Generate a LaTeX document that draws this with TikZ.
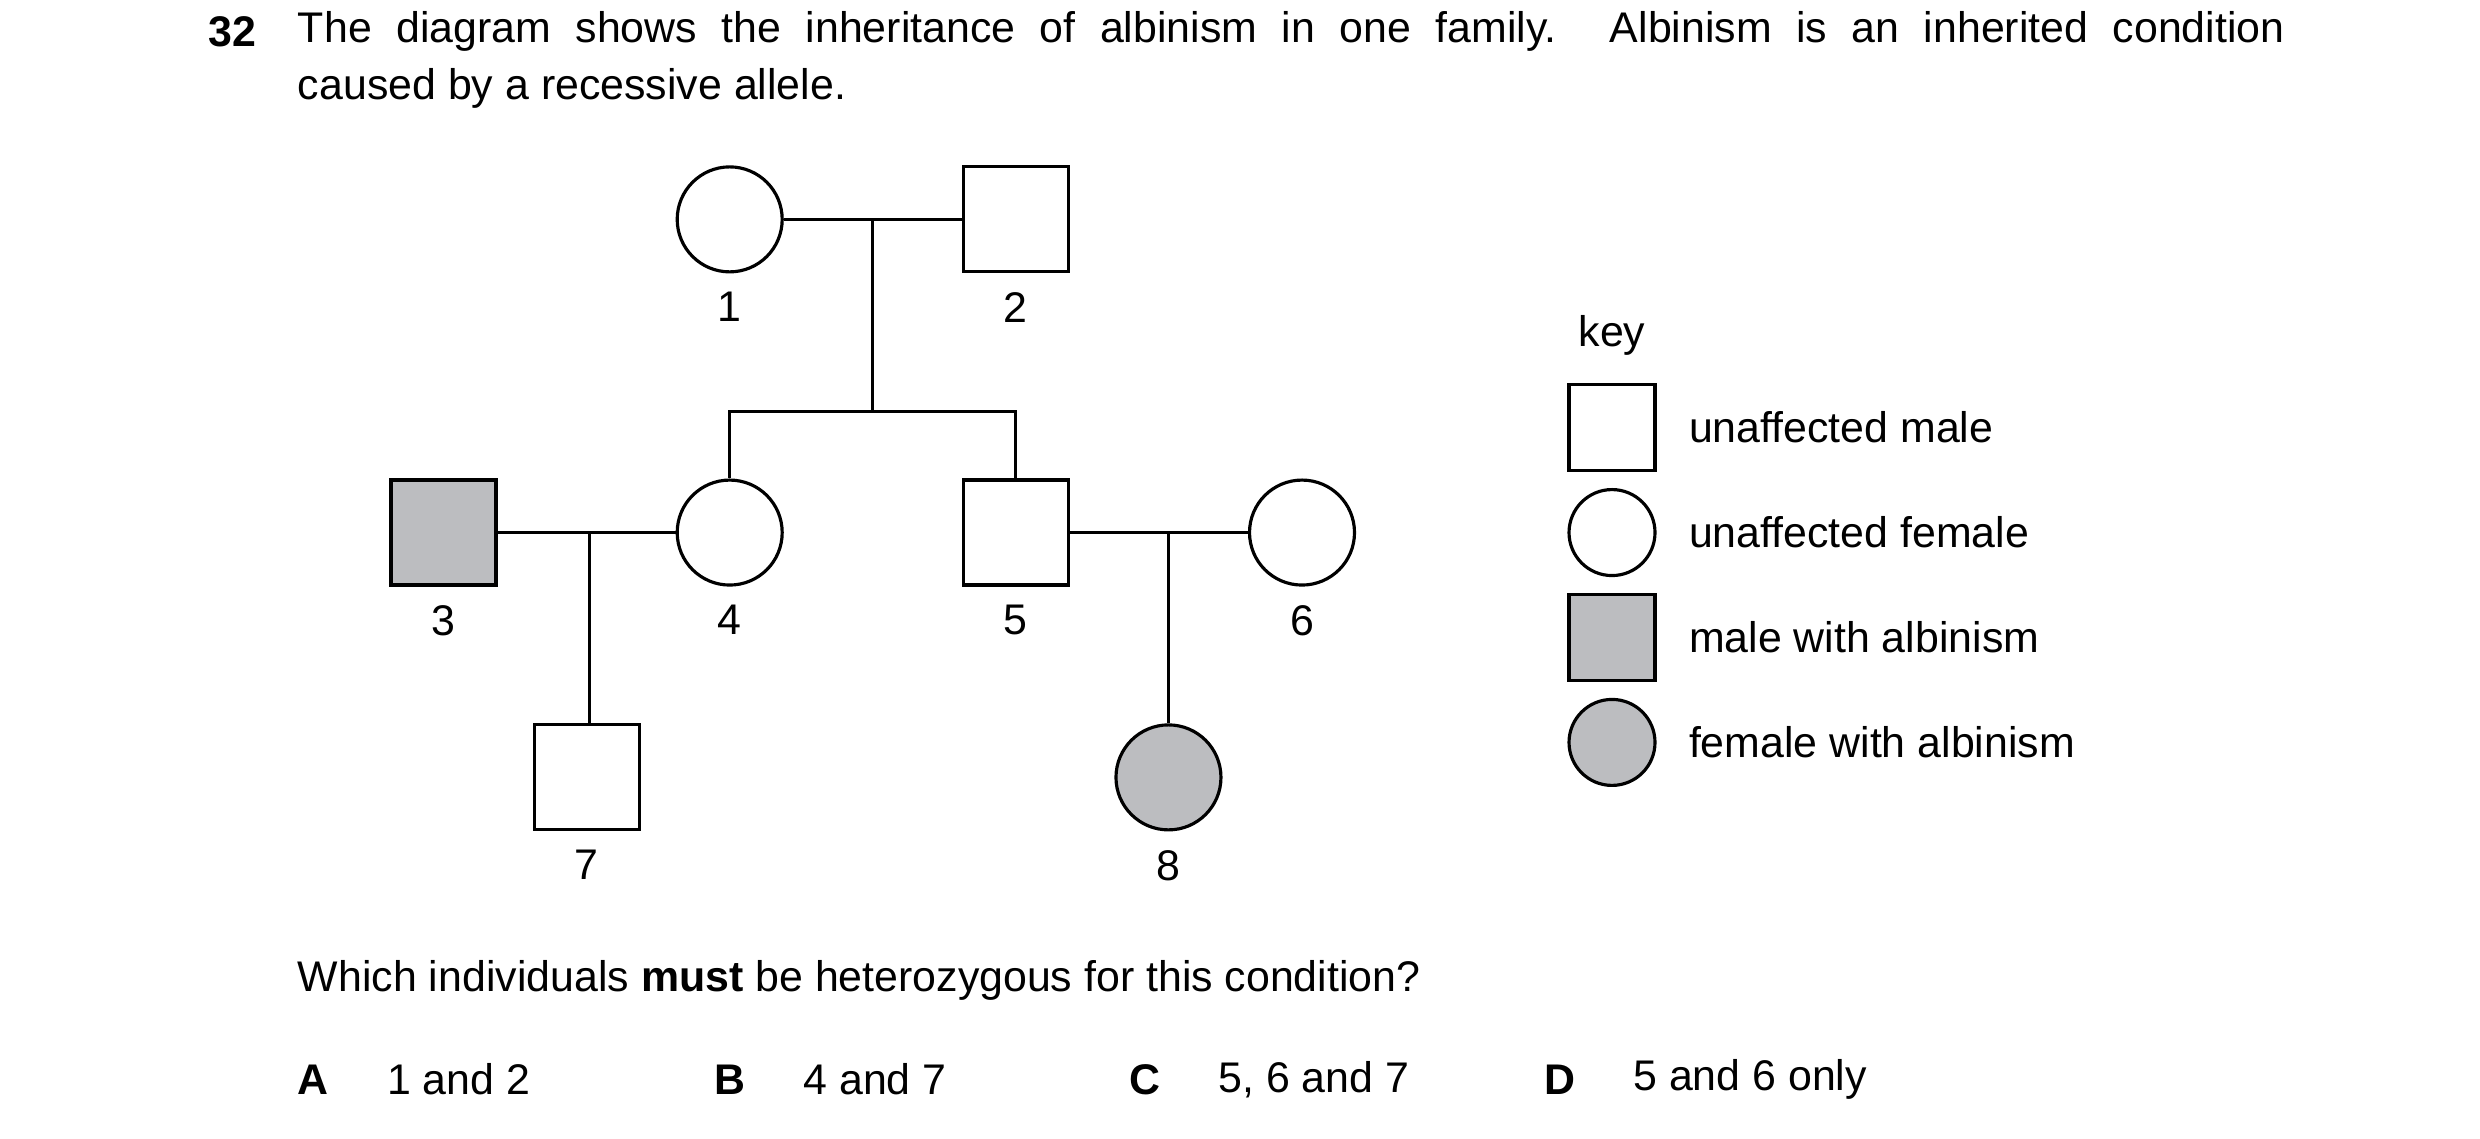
\documentclass[tikz,border=0pt]{standalone}
\usepackage{fontspec}
\setmainfont{Liberation Sans}
\usetikzlibrary{positioning}
\definecolor{albino}{HTML}{BCBDC0}
\tikzset{
    male/.style={draw, line width=0.9pt, minimum size=1.05cm, inner sep=0pt},
    female/.style={draw, line width=0.9pt, circle, minimum size=1.05cm, inner sep=0pt},
    keymale/.style={male, minimum size=0.86cm},
    keyfemale/.style={female, minimum size=0.86cm},
    line/.style={line width=0.9pt},
    txt/.style={font=\fontsize{12.2}{16}\selectfont, inner sep=0pt}
}
\begin{document}
\begin{tikzpicture}[x=0.0159cm, y=-0.0159cm]
    \useasboundingbox (0,0) rectangle (1560,716);
    % question header
    \node [txt, anchor=west, font=\fontsize{12.2}{16}\selectfont\bfseries] at (131,20) {32};
    \node [txt, anchor=north west, text width=19.87cm, align=justify] (q) at (187,7)
        {The diagram shows the inheritance of albinism in one family. Albinism is an inherited condition\linebreak caused by a recessive allele.};
    % generation I
    \node [female] (p1) at (459,138) {};
    \node [male] (p2) at (639,138) {};
    % generation II
    \node [male, fill=albino] (p3) at (279,335) {};
    \node [female] (p4) at (459,335) {};
    \node [male] (p5) at (639,335) {};
    \node [female] (p6) at (819,335) {};
    % generation III
    \node [male] (p7) at (369,489) {};
    \node [female, fill=albino] (p8) at (735,489) {};
    % numbers
    \foreach \p/\n in {p1/1,p2/2,p3/3,p4/4,p5/5,p6/6,p7/7,p8/8}
        \node [txt, below=0.72cm of \p.center] {\n};
    % marriage and descent lines
    \draw [line] (p1) -- coordinate (m12) (p2);
    \coordinate (s12) at (549,259);
    \draw [line] (m12 -| s12) -- (s12);
    \draw [line] (p4.north) |- (s12) -| (p5.north);
    \draw [line] (p3) -- (p4);
    \coordinate (m34) at (371,335);
    \draw [line] (m34) -- (m34 |- p7.north);
    \draw [line] (p5) -- (p6);
    \coordinate (m56) at (735,335);
    \draw [line] (m56) -- (p8.north);
    % key
    \node [txt] at (1014,211) {key};
    \node [keymale] (k1) at (1014,269) {};
    \node [keyfemale] (k2) at (1014,335) {};
    \node [keymale, fill=albino] (k3) at (1014,401) {};
    \node [keyfemale, fill=albino] (k4) at (1014,467) {};
    \node [txt, anchor=west] at (1062,269) {unaffected male};
    \node [txt, anchor=west] at (1062,335) {unaffected female};
    \node [txt, anchor=west] at (1062,401) {male with albinism};
    \node [txt, anchor=west] at (1062,467) {female with albinism};
    % question and options
    \node [txt, anchor=west] at (187,617) {Which individuals \textbf{must} be heterozygous for this condition?};
    \foreach \x/\l/\t in {187/A/1 and 2, 449/B/4 and 7, 710/C/{5, 6 and 7}, 971/D/5 and 6 only}{
        \node [txt, anchor=west, font=\fontsize{12.2}{16}\selectfont\bfseries] at (\x,679) {\l};
        \node [txt, anchor=west] at (\x+56,679) {\t};
    }
\end{tikzpicture}
\end{document}
